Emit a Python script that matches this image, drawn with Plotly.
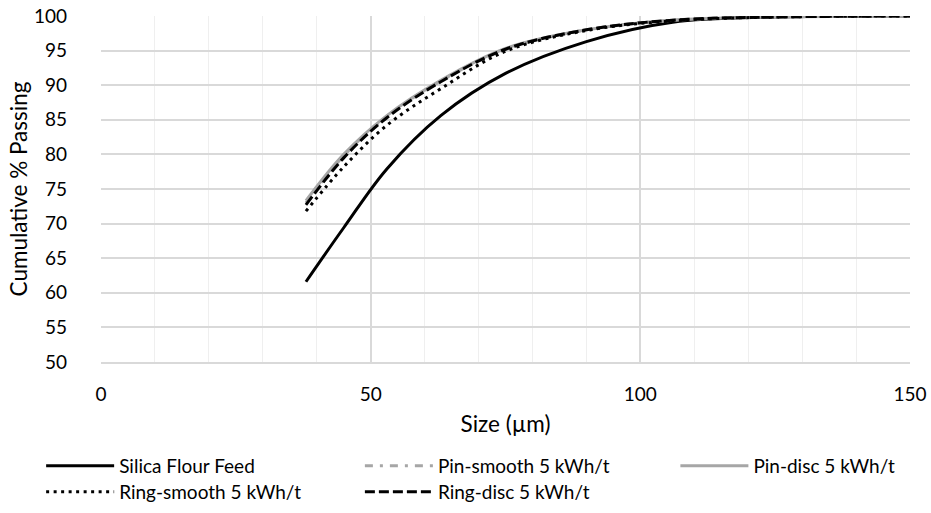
import plotly.graph_objects as go

size_um = [38, 45, 53, 63, 75, 90, 106, 125, 150]
silica_feed = [61.6, 69.4, 77.9, 85.6, 91.7, 96.3, 99.1, 99.85, 100.0]
pin_smooth = [73.0, 79.8, 85.5, 90.6, 95.2, 98.0, 99.4, 99.85, 100.0]
pin_disc = [73.3, 80.0, 85.6, 90.7, 95.3, 98.0, 99.4, 99.85, 100.0]
ring_smooth = [71.8, 78.2, 84.2, 89.5, 94.9, 97.9, 99.3, 99.85, 100.0]
ring_disc = [72.7, 79.5, 85.3, 90.5, 95.2, 98.0, 99.4, 99.85, 100.0]

series = [
    ("Silica Flour Feed", silica_feed, "#000000", "solid", "legend"),
    ("Pin-smooth 5 kWh/t", pin_smooth, "#a6a6a6", "8px,7px,3px,7px", "legend2"),
    ("Pin-disc 5 kWh/t", pin_disc, "#a6a6a6", "solid", "legend3"),
    ("Ring-smooth 5 kWh/t", ring_smooth, "#000000", "3px,4.5px", "legend4"),
    ("Ring-disc 5 kWh/t", ring_disc, "#000000", "10px,4px", "legend5"),
]

FONT = "Lato, Carlito, Calibri, sans-serif"

fig = go.Figure()
for name, vals, color, dash, leg in series:
    fig.add_trace(go.Scatter(
        x=size_um, y=vals, mode="lines", name=name, legend=leg,
        line=dict(color=color, width=3, dash=dash, shape="spline", smoothing=1.0),
    ))

ROW1, ROW2 = -0.3006, -0.3757
COL1, COL2, COL3 = -0.074, 0.320, 0.710


def leg(x, y):
    return dict(x=x, y=y, xanchor="left", yanchor="middle", itemwidth=68,
                font=dict(size=19), bgcolor="rgba(0,0,0,0)", borderwidth=0)


fig.update_layout(
    width=931, height=513,
    margin=dict(l=101, r=21, t=16, b=151, autoexpand=False),
    paper_bgcolor="white", plot_bgcolor="white",
    font=dict(family=FONT, size=19, color="#000000"),
    showlegend=True,
    legend=leg(COL1, ROW1),
    legend2=leg(COL2, ROW1),
    legend3=leg(COL3, ROW1),
    legend4=leg(COL1, ROW2),
    legend5=leg(COL2, ROW2),
    xaxis=dict(
        range=[0, 150], tick0=0, dtick=50, showgrid=True,
        gridcolor="#d9d9d9", gridwidth=1.5,
        minor=dict(dtick=10, showgrid=True, gridcolor="#efefef", gridwidth=1),
        showline=True, linecolor="#d9d9d9", linewidth=1.5,
        zeroline=False, ticks="", ticklabelstandoff=14, automargin=False,
        ticklabeloverflow="allow",
        title=dict(text="Size (µm)", standoff=13, font=dict(size=22.5)),
        tickfont=dict(size=19),
    ),
    yaxis=dict(
        range=[50, 100], tick0=50, dtick=5, showgrid=True,
        gridcolor="#d9d9d9", gridwidth=1.5,
        zeroline=False, ticks="", ticklabelstandoff=33, automargin=False,
        ticklabeloverflow="allow",
        title=dict(text="Cumulative % Passing", standoff=0, font=dict(size=22.5)),
        tickfont=dict(size=19),
    ),
)

# remove the browser's default 8px body margin so the figure fills the window
fig.write_html("out.html", config={"displayModeBar": False},
               post_script="document.body.style.margin='0';")
